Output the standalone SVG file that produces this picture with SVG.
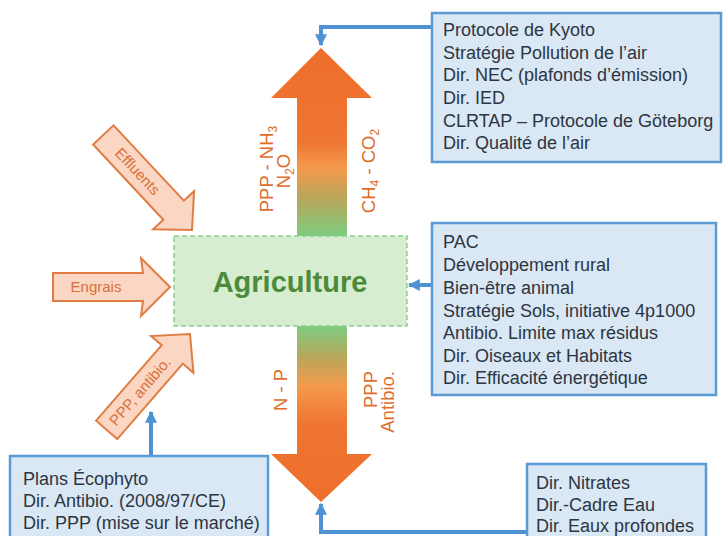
<svg xmlns="http://www.w3.org/2000/svg" width="723" height="536" viewBox="0 0 723 536">
<defs>
<linearGradient id="gUp" gradientUnits="userSpaceOnUse" x1="0" y1="48" x2="0" y2="236">
<stop offset="0" stop-color="#ee6e2b"/>
<stop offset="0.5" stop-color="#ef7631"/>
<stop offset="0.64" stop-color="#f49a4c"/>
<stop offset="0.8" stop-color="#b9a65a"/>
<stop offset="1" stop-color="#7ccd80"/>
</linearGradient>
<linearGradient id="gDown" gradientUnits="userSpaceOnUse" x1="0" y1="326" x2="0" y2="502">
<stop offset="0" stop-color="#7ccd80"/>
<stop offset="0.18" stop-color="#b9a65a"/>
<stop offset="0.34" stop-color="#f49a4c"/>
<stop offset="0.55" stop-color="#ef7631"/>
<stop offset="1" stop-color="#ee6e2b"/>
</linearGradient>
<marker id="ah" viewBox="0 0 10 10" refX="9" refY="5" markerWidth="12" markerHeight="12" markerUnits="userSpaceOnUse" orient="auto">
<path d="M0,0 L10,5 L0,10 z" fill="#4f92d3"/>
</marker>
</defs>
<style>
.box{fill:#dae7f4;stroke:#5b9bd5;stroke-width:2.5}
.bt{font-family:"Liberation Sans",Arial,sans-serif;font-size:18px;fill:#2c3642}
.conn{fill:none;stroke:#4f92d3;stroke-width:4}
.inarrow{fill:#fbd6c2;stroke:#df7d42;stroke-width:2;stroke-linejoin:miter}
.it{font-family:"Liberation Sans",Arial,sans-serif;font-size:15px;fill:#d8703c;text-anchor:middle}
.vl{font-family:"Liberation Sans",Arial,sans-serif;font-size:18.5px;fill:#e06d2c}
</style>

<g id="flow-up">
<polygon points="297,236 297,98 271,98 321,48 372,98 347,98 347,236" fill="url(#gUp)"/>
<text class="vl" transform="translate(273,169) rotate(-90)" text-anchor="middle">PPP - NH<tspan dy="4" font-size="12">3</tspan></text>
<text class="vl" transform="translate(290,171) rotate(-90)" text-anchor="middle">N<tspan dy="4" font-size="12">2</tspan><tspan dy="-4">O</tspan></text>
<text class="vl" transform="translate(375,171) rotate(-90)" text-anchor="middle">CH<tspan dy="4" font-size="12">4</tspan><tspan dy="-4"> - CO</tspan><tspan dy="4" font-size="12">2</tspan></text>
</g>

<g id="flow-down">
<polygon points="297,326 297,454 271,454 321,502 372,454 347,454 347,326" fill="url(#gDown)"/>
<text class="vl" transform="translate(287,390) rotate(-90)" text-anchor="middle">N - P</text>
<text class="vl" transform="translate(377,371) rotate(-90)" text-anchor="end">PPP</text>
<text class="vl" transform="translate(394,371) rotate(-90)" text-anchor="end">Antibio.</text>
</g>

<g id="agriculture">
<rect x="174" y="236" width="233" height="90" fill="#d6edd0" stroke="#8ccb8c" stroke-width="1.5" stroke-dasharray="5,3"/>
<text x="290" y="292" text-anchor="middle" font-family="'Liberation Sans',Arial,sans-serif" font-weight="bold" font-size="29" fill="#4d8b3b">Agriculture</text>
</g>

<g id="effluents">
<g transform="translate(192,230) rotate(47)">
<polygon class="inarrow" points="-130,-14 -27,-14 -27,-28 0,0 -27,28 -27,14 -130,14"/>
<text class="it" x="-80" y="5">Effluents</text>
</g>
</g>

<g id="engrais">
<g transform="translate(170,287)">
<polygon class="inarrow" points="-117,-14 -27,-14 -29,-29 0,0 -29,29 -27,14 -117,14"/>
<text class="it" x="-74" y="5">Engrais</text>
</g>
</g>

<g id="ppp-antibio">
<g transform="translate(190,334) rotate(-49)">
<polygon class="inarrow" points="-127,-14 -27,-14 -27,-28 0,0 -27,28 -27,14 -127,14"/>
<text class="it" x="-76" y="5">PPP, antibio.</text>
</g>
</g>

<g id="connectors">
<polyline class="conn" points="432,27 321,27 321,45" marker-end="url(#ah)"/>
<polyline class="conn" points="432,285 409,285" marker-end="url(#ah)"/>
<polyline class="conn" points="151,456 151,412" marker-end="url(#ah)"/>
<polyline class="conn" points="527,532 321,532 321,504" marker-end="url(#ah)"/>
</g>

<g id="box-air">
<rect class="box" x="432" y="13" width="289" height="149"/>
<text class="bt" x="443" y="36">Protocole de Kyoto</text>
<text class="bt" x="443" y="59">Stratégie Pollution de l’air</text>
<text class="bt" x="443" y="81">Dir. NEC (plafonds d’émission)</text>
<text class="bt" x="443" y="104">Dir. IED</text>
<text class="bt" x="443" y="127">CLRTAP – Protocole de Göteborg</text>
<text class="bt" x="443" y="149">Dir. Qualité de l’air</text>
</g>

<g id="box-pac">
<rect class="box" x="432" y="223" width="284" height="172"/>
<text class="bt" x="443" y="248">PAC</text>
<text class="bt" x="443" y="271">Développement rural</text>
<text class="bt" x="443" y="294">Bien-être animal</text>
<text class="bt" x="443" y="317">Stratégie Sols, initiative 4p1000</text>
<text class="bt" x="443" y="339">Antibio. Limite max résidus</text>
<text class="bt" x="443" y="362">Dir. Oiseaux et Habitats</text>
<text class="bt" x="443" y="384">Dir. Efficacité énergétique</text>
</g>

<g id="box-ecophyto">
<rect class="box" x="10" y="456" width="258" height="90"/>
<text class="bt" x="23" y="485">Plans Écophyto</text>
<text class="bt" x="23" y="507">Dir. Antibio. (2008/97/CE)</text>
<text class="bt" x="23" y="529">Dir. PPP (mise sur le marché)</text>
</g>

<g id="box-eau">
<rect class="box" x="527" y="464" width="179" height="82"/>
<text class="bt" x="536" y="489">Dir. Nitrates</text>
<text class="bt" x="536" y="511">Dir.-Cadre Eau</text>
<text class="bt" x="536" y="532">Dir. Eaux profondes</text>
</g>
</svg>
